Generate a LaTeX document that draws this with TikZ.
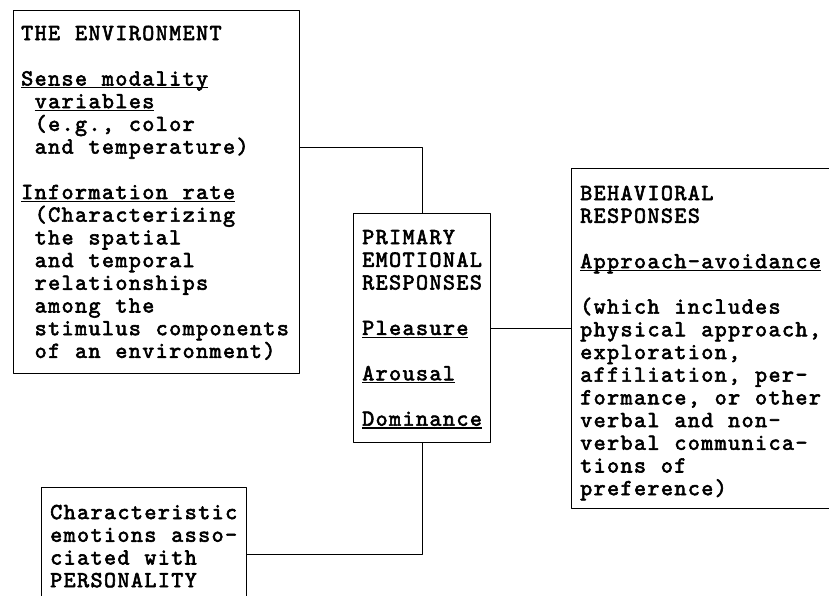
\documentclass[tikz,border=0pt]{standalone}
\usepackage{fontspec}
\usetikzlibrary{positioning}
\newfontfamily\typew{lmmono10-regular.otf}[FakeBold=2.6, LetterSpace=6, WordSpace=1.1]
\newcommand{\ind}{\hspace*{13.5pt}}
\newcommand{\uln}[1]{\setbox0\hbox{#1}\rlap{\rule[-3pt]{\wd0}{1.3pt}}\box0}
\tikzset{
  frame/.style={draw, line width=1.2pt, inner sep=0pt, anchor=north west},
  words/.style={inner sep=0pt, anchor=north west, align=left,
    font=\typew\fontsize{23}{22.7}\selectfont\frenchspacing},
  wire/.style={line width=1.2pt}
}
\begin{document}
\setlength{\lineskiplimit}{-50pt}
\begin{tikzpicture}[x=1pt, y=-1pt, line join=round]
\path[use as bounding box] (0,0) rectangle (829,596);
\clip (0,0) rectangle (829,596);
% boxes
\node[frame, minimum width=286pt, minimum height=363pt] (env) at (13,10) {};
\node[frame, minimum width=137pt, minimum height=229pt] (pemr) at (353,213) {};
\node[frame, minimum width=264pt, minimum height=340pt] (behav) at (571,168) {};
\node[frame, minimum width=205pt, minimum height=134pt] (pers) at (41,487) {};
% texts
\node[words, below right=14pt and 8pt of env.north west] (envtxt) {\strut THE ENVIRONMENT\\[22.7pt]
  \uln{Sense modality}\\
  \ind\uln{variables}\\
  \ind(e.g., color\\
  \ind and temperature)\\[22.7pt]
  \uln{Information rate}\\
  \ind(Characterizing\\
  \ind the spatial\\
  \ind and temporal\\
  \ind relationships\\
  \ind among the\\
  \ind stimulus components\\
  \ind of an environment)};
\node[words, below right=15pt and 9pt of pemr.north west] (pemrtxt) {\strut PRIMARY\\
  EMOTIONAL\\
  RESPONSES\\[22.7pt]
  \uln{Pleasure}\\[22.7pt]
  \uln{Arousal}\\[22.7pt]
  \uln{Dominance}};
\node[words, below right=16pt and 9pt of behav.north west] (behavtxt) {\strut BEHAVIORAL\\
  RESPONSES\\[22.7pt]
  \uln{Approach-avoidance}\\[22.7pt]
  (which includes\\
  physical approach,\\
  exploration,\\
  affiliation, per-\\
  formance, or other\\
  verbal and non-\\
  verbal communica-\\
  tions of\\
  preference)};
\node[words, below right=16pt and 9pt of pers.north west] (perstxt) {\strut Characteristic\\
  emotions asso-\\
  ciated with\\
  PERSONALITY};
% connectors
\draw[wire] ([yshift=44.5pt]env.east) -| (pemr.north);
\draw[wire] (pemr.east) -- (pemr.east -| behav.west);
\draw[wire] (pers.east) -| (pemr.south);
\end{tikzpicture}
\end{document}
